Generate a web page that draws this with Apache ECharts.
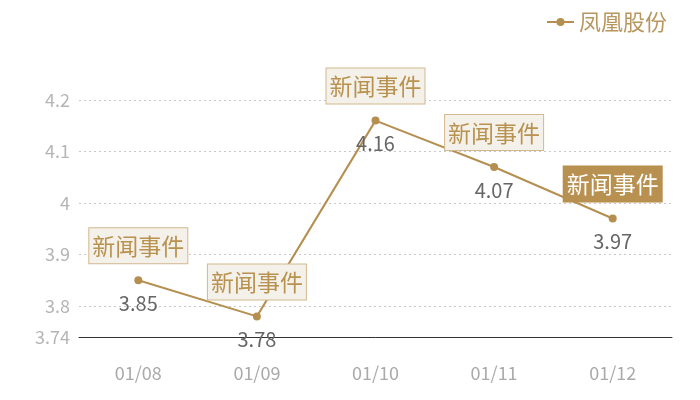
<!DOCTYPE html>
<html>
<head>
<meta charset="utf-8">
<script src="https://cdn.jsdelivr.net/npm/echarts@6/dist/echarts.min.js"></script>
<style>html,body{margin:0;padding:0;background:#fff;}#c{width:700px;height:400px;}</style>
</head>
<body>
<div id="c"></div>
<script>
var categories = ['01/08', '01/09', '01/10', '01/11', '01/12'];
var values = [3.85, 3.78, 4.16, 4.07, 3.97];
var eventLabels = ['新闻事件', '新闻事件', '新闻事件', '新闻事件', '新闻事件'];
var highlighted = [false, false, false, false, true];
var seriesName = '凤凰股份';

var FONT = '"Noto Sans CJK SC", "Noto Sans", sans-serif';
var GOLD = '#b58f50';

var markData = categories.map(function (c, i) {
  var hl = highlighted[i];
  return {
    coord: [c, values[i]],
    value: eventLabels[i],
    label: {
      color: hl ? '#ffffff' : '#b8924f',
      backgroundColor: hl ? '#b8904f' : '#f4f0ea',
      borderColor: hl ? '#b8904f' : '#d2b98f',
      borderWidth: 1
    }
  };
});

var chart = echarts.init(document.getElementById('c'));
chart.setOption({
  animation: false,
  textStyle: { fontFamily: FONT },
  legend: {
    right: 28,
    top: 6,
    itemWidth: 27,
    itemHeight: 10,
    itemGap: 6,
    textStyle: { color: '#b8975f', fontSize: 22, fontFamily: FONT },
    data: [seriesName]
  },
  grid: { left: 79, right: 28, top: 100, bottom: 63 },
  xAxis: {
    type: 'category',
    data: categories,
    boundaryGap: true,
    axisLine: { lineStyle: { color: '#333', width: 1 } },
    axisTick: { show: false },
    axisLabel: { color: '#aaaaaa', fontSize: 18, margin: 27, fontFamily: FONT }
  },
  yAxis: {
    type: 'value',
    min: 3.74,
    max: 4.2,
    axisLine: { show: false },
    axisTick: { show: false },
    axisLabel: { color: '#b5b5b5', fontSize: 18, margin: 9, fontFamily: FONT },
    splitLine: { lineStyle: { color: '#c8c8c8', type: [2, 3] } }
  },
  series: [{
    name: seriesName,
    type: 'line',
    data: values,
    symbol: 'circle',
    symbolSize: 8,
    lineStyle: { color: GOLD, width: 2 },
    itemStyle: { color: GOLD },
    label: {
      show: true,
      position: 'bottom',
      distance: 9,
      color: '#666666',
      fontSize: 20,
      fontFamily: FONT
    },
    markPoint: {
      symbol: 'circle',
      symbolSize: 0,
      itemStyle: { color: 'transparent' },
      label: {
        show: true,
        position: 'top',
        distance: 17,
        fontSize: 23,
        lineHeight: 26,
        padding: [5, 3, 4, 3],
        fontFamily: FONT,
        formatter: function (p) { return p.value; }
      },
      data: markData
    }
  }]
});
</script>
</body>
</html>
